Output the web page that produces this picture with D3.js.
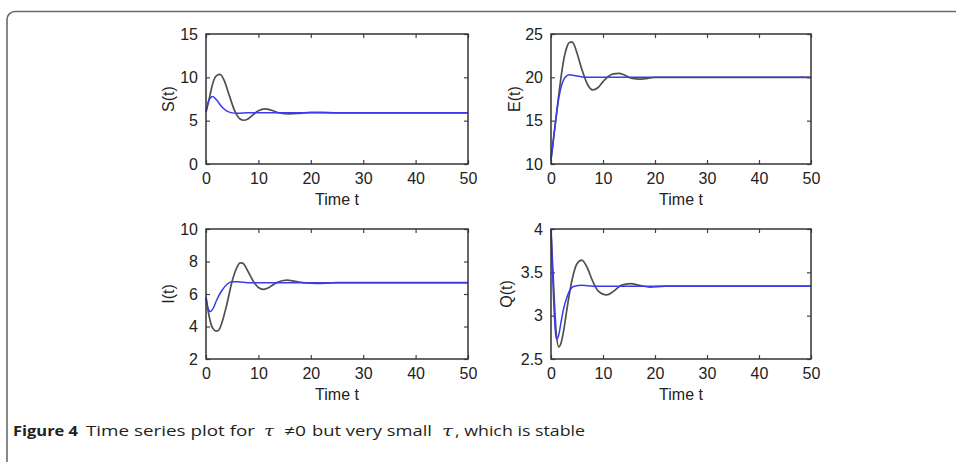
<!DOCTYPE html>
<html>
<head>
<meta charset="utf-8">
<script src="https://cdn.jsdelivr.net/npm/d3@7"></script>
<style>
  html, body { margin: 0; padding: 0; background: #fff; }
  svg { display: block; }
  .tick text { font-family: "Liberation Sans", Arial, sans-serif; font-size: 16px; fill: #222; }
</style>
</head>
<body>
<svg id="chart"></svg>
<script>
// Figure size
const width = 956;
const height = 462;

// Shared time axis
const timeDomain = [0, 50];
const timeTicks = [0, 10, 20, 30, 40, 50];

// S(t) - black = small tau, blue = reference
const sTimeBlack = [0, 0.5, 1, 1.5, 2, 2.7, 3.5, 4.5, 5.5, 6.5, 7.2, 8, 9, 10, 11.3, 12.5, 14, 16, 18, 20, 22, 25, 30, 50];
const sBlack     = [6.0, 7.2, 8.6, 9.7, 10.2, 10.35, 9.6, 7.8, 6.1, 5.2, 5.05, 5.2, 5.7, 6.15, 6.35, 6.2, 5.9, 5.78, 5.85, 5.95, 5.95, 5.9, 5.9, 5.9];
const sTimeBlue  = [0, 0.5, 1.3, 2, 3, 4, 5, 6, 8, 50];
const sBlue      = [6.0, 7.3, 7.8, 7.4, 6.6, 6.1, 5.9, 5.85, 5.9, 5.9];

// E(t)
const eTimeBlack = [0, 0.5, 1, 1.5, 2, 2.5, 3, 3.5, 4, 4.5, 5, 6, 7, 8, 9, 10, 11, 12, 13, 14, 15, 16, 17, 18, 20, 50];
const eBlack     = [10.5, 13, 15.5, 18, 20.3, 22.2, 23.4, 24.0, 24.1, 23.7, 22.8, 20.8, 19.2, 18.55, 18.8, 19.5, 20.1, 20.4, 20.45, 20.3, 20.0, 19.85, 19.8, 19.85, 20.0, 20.0];
const eTimeBlue  = [0, 0.5, 1, 1.5, 2, 2.5, 3, 3.5, 4.5, 6, 8, 50];
const eBlue      = [10.5, 13, 15.5, 17.6, 19.0, 19.8, 20.15, 20.3, 20.2, 20.05, 20.0, 20.0];

// I(t)
const iTimeBlack = [0, 0.5, 1, 1.5, 2, 2.5, 3, 4, 5, 6, 6.5, 7, 8, 9, 10, 10.9, 12, 13.5, 15.4, 17, 19, 21, 25, 50];
const iBlack     = [5.8, 4.8, 4.1, 3.8, 3.72, 3.8, 4.2, 5.4, 6.8, 7.7, 7.92, 7.9, 7.4, 6.8, 6.4, 6.28, 6.4, 6.7, 6.85, 6.78, 6.68, 6.65, 6.7, 6.7];
const iTimeBlue  = [0, 0.4, 0.8, 1.5, 2, 3, 4, 5, 6, 8, 50];
const iBlue      = [5.8, 5.1, 4.92, 5.2, 5.6, 6.2, 6.6, 6.75, 6.75, 6.7, 6.7];

// Q(t)
const qTimeBlack = [0, 0.3, 0.7, 1, 1.5, 2, 2.5, 3, 4, 5, 5.9, 7, 8, 9, 10.7, 12, 13.5, 15.3, 17, 19, 22, 50];
const qBlack     = [4.0, 3.6, 3.1, 2.8, 2.64, 2.7, 2.85, 3.05, 3.4, 3.6, 3.64, 3.55, 3.4, 3.29, 3.24, 3.28, 3.35, 3.37, 3.35, 3.33, 3.34, 3.34];
const qTimeBlue  = [0, 0.3, 0.6, 0.9, 1.1, 1.5, 2, 2.5, 3, 3.5, 4.5, 6, 8, 50];
const qBlue      = [4.0, 3.5, 3.05, 2.78, 2.73, 2.78, 2.95, 3.1, 3.2, 3.28, 3.34, 3.35, 3.34, 3.34];

// Y axes
const yLabels  = ["S(t)", "E(t)", "I(t)", "Q(t)"];
const yDomains = [[0, 15], [10, 25], [2, 10], [2.5, 4]];
const yTicks   = [[0, 5, 10, 15], [10, 15, 20, 25], [2, 4, 6, 8, 10], [2.5, 3, 3.5, 4]];
const xLabel = "Time t";

// Panel boxes (left, top, width, height) and ylabel offset
const boxes = [
  { x: 206, y: 34,  w: 262, h: 130, lab: 32 },
  { x: 551, y: 34,  w: 260, h: 130, lab: 31 },
  { x: 206, y: 229, w: 262, h: 130, lab: 32 },
  { x: 551, y: 229, w: 260, h: 130, lab: 39 }
];

const blackSeries = [[sTimeBlack, sBlack], [eTimeBlack, eBlack], [iTimeBlack, iBlack], [qTimeBlack, qBlack]];
const blueSeries  = [[sTimeBlue, sBlue], [eTimeBlue, eBlue], [iTimeBlue, iBlue], [qTimeBlue, qBlue]];

const svg = d3.select("#chart")
  .attr("width", width)
  .attr("height", height);

// Outer frame, open at right and bottom
svg.append("path")
  .attr("d", "M 970 11.5 L 15 11.5 A 8 8 0 0 0 7 19.5 L 7 475")
  .attr("fill", "none")
  .attr("stroke", "#6b6b6b")
  .attr("stroke-width", 1.6);

boxes.forEach((b, i) => {
  const g = svg.append("g").attr("transform", `translate(${b.x},${b.y})`);

  const x = d3.scaleLinear().domain(timeDomain).range([0, b.w]);
  const y = d3.scaleLinear().domain(yDomains[i]).range([b.h, 0]);

  // ticks on all four sides, pointing inward
  const bottom = g.append("g")
    .attr("transform", `translate(0,${b.h})`)
    .call(d3.axisBottom(x).tickValues(timeTicks).tickSizeInner(-4).tickSizeOuter(0).tickPadding(9));
  const top = g.append("g")
    .call(d3.axisTop(x).tickValues(timeTicks).tickSizeInner(-4).tickSizeOuter(0).tickFormat(""));
  const left = g.append("g")
    .call(d3.axisLeft(y).tickValues(yTicks[i]).tickSizeInner(-4).tickSizeOuter(0).tickPadding(8).tickFormat(d => String(d)));
  const right = g.append("g")
    .attr("transform", `translate(${b.w},0)`)
    .call(d3.axisRight(y).tickValues(yTicks[i]).tickSizeInner(-4).tickSizeOuter(0).tickFormat(""));

  [bottom, top, left, right].forEach(a => {
    a.select(".domain").remove();
    a.selectAll(".tick line").attr("stroke", "#444").attr("stroke-width", 1.2);
  });
  bottom.selectAll(".tick text").attr("dy", "0.71em");

  const line = d3.line()
    .x(d => x(d[0]))
    .y(d => y(d[1]))
    .curve(d3.curveMonotoneX);

  const toPts = s => s[0].map((t, k) => [t, s[1][k]]);

  g.append("path")
    .datum(toPts(blackSeries[i]))
    .attr("d", line)
    .attr("fill", "none")
    .attr("stroke", "#505050")
    .attr("stroke-width", 1.7);

  g.append("path")
    .datum(toPts(blueSeries[i]))
    .attr("d", line)
    .attr("fill", "none")
    .attr("stroke", "#3b3bec")
    .attr("stroke-width", 1.5);

  // box
  g.append("rect")
    .attr("width", b.w)
    .attr("height", b.h)
    .attr("fill", "none")
    .attr("stroke", "#333")
    .attr("stroke-width", 1.5);

  // labels
  g.append("text")
    .attr("x", b.w / 2)
    .attr("y", b.h + 41)
    .attr("text-anchor", "middle")
    .style("font-family", "'Liberation Sans', Arial, sans-serif")
    .style("font-size", "16px")
    .attr("fill", "#222")
    .text(xLabel);

  g.append("text")
    .attr("transform", `translate(${-b.lab},${b.h / 2}) rotate(-90)`)
    .attr("text-anchor", "middle")
    .style("font-family", "'Liberation Sans', Arial, sans-serif")
    .style("font-size", "16px")
    .attr("fill", "#222")
    .text(yLabels[i]);
});

// Caption
const captionParts = [
  { text: "Figure 4", x: 13, w: 65, bold: true },
  { text: "Time series plot for", x: 86, w: 169 },
  { text: "\u03C4", x: 264, w: 10, greek: true },
  { text: "\u22600", x: 284, w: 22 },
  { text: "but very small", x: 312, w: 120 },
  { text: "\u03C4", x: 442, w: 11, greek: true },
  { text: ", which is stable", x: 455, w: 130 }
];

const caption = svg.append("text")
  .attr("y", 436)
  .style("font-family", "'Open Sans', 'Noto Sans', sans-serif")
  .style("font-size", "15px")
  .attr("fill", "#231f20");

captionParts.forEach(p => {
  caption.append("tspan")
    .attr("x", p.x)
    .attr("textLength", p.w)
    .attr("lengthAdjust", "spacingAndGlyphs")
    .style("font-weight", p.bold ? "bold" : "normal")
    .style("font-style", p.greek ? "italic" : "normal")
    .style("font-family", p.greek ? "'DejaVu Serif', serif" : null)
    .text(p.text);
});
</script>
</body>
</html>
